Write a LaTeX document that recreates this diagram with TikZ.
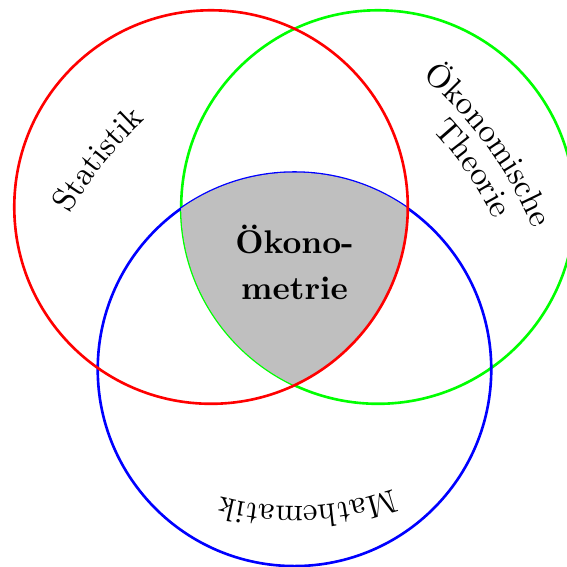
\documentclass[tikz,border=0pt]{standalone}
\usetikzlibrary{decorations.text}
\newcommand{\radius}{2.11}
\tikzset{
  venn/.style={thick},
  along/.style={
    decorate,
    decoration={text along path,text align=center,text={#1}}
  },
  core/.style={font=\bfseries,align=center}
}

\begin{document}
\begin{tikzpicture}
  \clip (-2.263,-3.86) rectangle (3.817,2.22);
  \coordinate (stat) at (0,0);
  \coordinate (theo) at (1.79,0);
  \coordinate (math) at (0.895,-1.74);
  \draw[venn,green] (theo) circle (\radius);
  \draw[venn,blue] (math) circle (\radius);
  \begin{scope}
    \clip (stat) circle (\radius);
    \clip (theo) circle (\radius);
    \fill[lightgray] (math) circle (\radius);
  \end{scope}
  \draw[venn,red] (stat) circle (\radius);
  \node[core] (oeko) at (0.895,-0.59) {Ökono-\\[2pt]metrie};
  % labels along arcs
  \path[along={Statistik}] (2.198,-2.218) ++(161.3:4.289) arc[start angle=161.3,end angle=121.3,radius=4.289];
  \path[along={Ökonomische}] (-0.511,-1.87) ++(58:4.289) arc[start angle=58,end angle=14,radius=4.289];
  \path[along={Theorie}] (-0.511,-1.87) ++(54.5:3.95) arc[start angle=54.5,end angle=14.5,radius=3.95];
  \path[along={Mathematik}] (math) ++(0,1.74) ++(298:3.206) arc[start angle=298,end angle=247,radius=3.206];
\end{tikzpicture}
\end{document}
